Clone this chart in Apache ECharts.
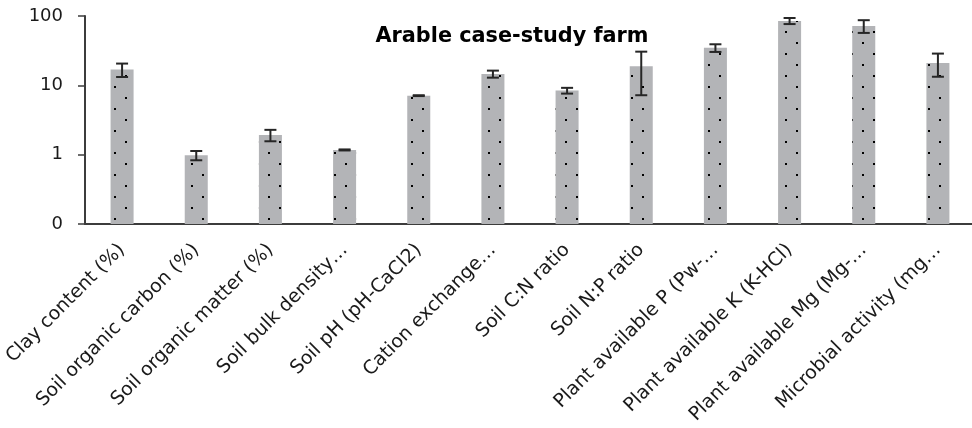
<!DOCTYPE html>
<html>
<head>
<meta charset="utf-8">
<script src="https://cdn.jsdelivr.net/npm/echarts@6/dist/echarts.min.js"></script>
<style>
  html, body { margin: 0; padding: 0; background: #fff; }
  #chart { width: 972px; height: 428px; }
</style>
</head>
<body>
<div id="chart"></div>
<script>
// Soil properties of the arable case-study farm (log scale), mean ± error
const categories = [
  'Clay content (%)',
  'Soil organic carbon (%)',
  'Soil organic matter (%)',
  'Soil bulk density…',
  'Soil pH (pH-CaCl2)',
  'Cation exchange…',
  'Soil C:N ratio',
  'Soil N:P ratio',
  'Plant available P (Pw-…',
  'Plant available K (K-HCl)',
  'Plant available Mg (Mg-…',
  'Microbial activity (mg…'
];
const means = [16.9, 0.98, 1.92, 1.17, 7.1, 14.6, 8.4, 18.9, 34.7, 85, 72, 21];
const errors = [3.7, 0.15, 0.36, 0.02, 0.1, 1.7, 0.8, 11.7, 4.4, 8.5, 15, 7.7];
const yTicks = [0.1, 1, 10, 100];

// Grey fill with a sparse dot texture
function dotPattern() {
  const c = document.createElement('canvas');
  c.width = 22; c.height = 22;
  const ctx = c.getContext('2d');
  ctx.fillStyle = '#b3b4b7';
  ctx.fillRect(0, 0, 22, 22);
  ctx.fillStyle = '#000000';
  ctx.fillRect(4, 20, 2, 2);
  ctx.fillRect(15, 9, 2, 2);
  return c;
}

const chart = echarts.init(document.getElementById('chart'), null, { renderer: 'canvas' });

const errorData = means.map((m, i) => [i, m - errors[i], m + errors[i]]);

chart.setOption({
  animation: false,
  backgroundColor: '#ffffff',
  textStyle: { fontFamily: 'DejaVu Sans' },
  title: {
    text: 'Arable case-study farm',
    left: 507,
    top: 21,
    textAlign: 'center',
    textStyle: { fontFamily: 'DejaVu Sans', fontWeight: 'bold', fontSize: 20.8, color: '#000' }
  },
  grid: { left: 85, top: 16, width: 890, height: 208, outerBoundsMode: 'none', containLabel: false },
  xAxis: {
    type: 'category',
    data: categories,
    axisLine: { lineStyle: { color: '#3c3c3c', width: 2 } },
    axisTick: { show: false },
    axisLabel: {
      rotate: 45,
      interval: 0,
      margin: 23,
      fontSize: 19,
      color: '#1a1a1a',
      fontFamily: 'DejaVu Sans'
    }
  },
  yAxis: {
    type: 'log',
    logBase: 10,
    min: 0.1,
    max: 100,
    startValue: 0.1,
    splitLine: { show: false },
    axisLine: { show: true, lineStyle: { color: '#3c3c3c', width: 2 } },
    axisTick: { show: true, length: 7, lineStyle: { color: '#3c3c3c', width: 1.5 } },
    minorTick: { show: false },
    axisLabel: {
      fontSize: 18,
      color: '#1a1a1a',
      margin: 22,
      fontFamily: 'DejaVu Sans',
      formatter: v => String(Math.round(v))
    }
  },
  series: [
    {
      type: 'bar',
      data: means,
      barWidth: 23,
      itemStyle: { color: { image: dotPattern(), repeat: 'repeat' } }
    },
    {
      type: 'custom',
      data: errorData,
      z: 5,
      renderItem: function (params, api) {
        const x = api.value(0);
        const lo = api.coord([x, api.value(1)]);
        const hi = api.coord([x, api.value(2)]);
        const half = 6;
        const style = { stroke: '#262626', lineWidth: 2 };
        return {
          type: 'group',
          children: [
            { type: 'line', shape: { x1: lo[0], y1: lo[1], x2: hi[0], y2: hi[1] }, style: style },
            { type: 'line', shape: { x1: hi[0] - half, y1: hi[1], x2: hi[0] + half, y2: hi[1] }, style: style },
            { type: 'line', shape: { x1: lo[0] - half, y1: lo[1], x2: lo[0] + half, y2: lo[1] }, style: style }
          ]
        };
      }
    }
  ]
});
</script>
</body>
</html>
